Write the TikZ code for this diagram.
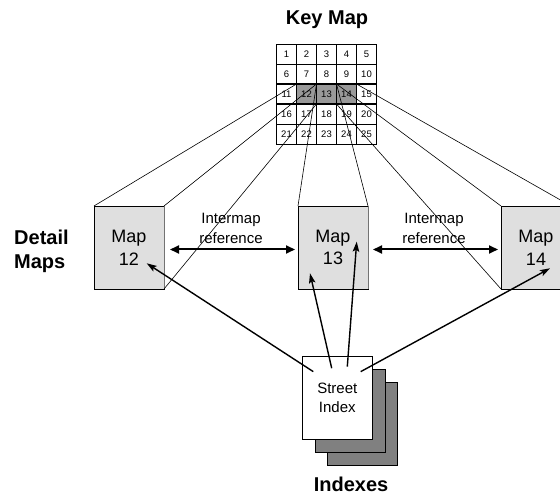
\documentclass[tikz,border=0pt]{standalone}
\usepackage{fontspec}
\setmainfont{Liberation Sans}
\usetikzlibrary{arrows.meta,calc}
\definecolor{keyshade}{rgb}{0.6,0.6,0.6}
\definecolor{boxfill}{rgb}{0.875,0.875,0.875}
\definecolor{pagefill}{rgb}{0.5,0.5,0.5}
\begin{document}
\begin{tikzpicture}[x=1pt,y=-1pt,
  cellbox/.style={draw,line width=0.8pt,minimum size=20pt,inner sep=0pt,outer sep=0pt,font=\fontsize{9.5}{11}\selectfont},
  mapbox/.style={draw,line width=0.8pt,fill=boxfill,minimum width=70pt,minimum height=83pt,inner sep=0pt,outer sep=0pt,align=center,font=\fontsize{18}{22.7}\selectfont},
  pagebox/.style={draw,line width=0.8pt,minimum width=70pt,minimum height=83.5pt,inner sep=0pt,outer sep=0pt,align=center,font=\fontsize{15}{19.3}\selectfont},
  boldlabel/.style={font=\fontsize{20}{24}\selectfont\bfseries,inner sep=0pt},
  reflabel/.style={align=center,inner sep=0pt,font=\fontsize{15}{20}\selectfont},
  frustum/.style={line width=0.6pt},
  dblarrow/.style={line width=2pt,{Triangle[length=9pt,width=8pt]}-{Triangle[length=9pt,width=8pt]}},
  idxarrow/.style={line width=1.4pt,-{Stealth[length=10pt,width=6.5pt,inset=2pt]}}
]
\useasboundingbox (0,0) rectangle (560,494);

% title
\node[boldlabel] (keytitle) at (327,20) {Key Map};

% key map grid
\fill[keyshade] (296.5,84) rectangle (356.5,104);
\foreach \r in {0,...,4}{
  \foreach \c in {0,...,4}{
    \pgfmathtruncatemacro{\n}{5*\r+\c+1}
    \node[cellbox] (c\n) at (286.5+20*\c,54+20*\r) {\n};
  }
}
\draw[line width=1.6pt] (c11.north west) -- (c15.north east);
\draw[line width=1.6pt] (c11.south west) -- (c15.south east);

% detail maps
\node[mapbox] (m12) at (129,247.5) {Map\\12};
\node[mapbox] (m13) at (333,247.5) {Map\\13};
\node[mapbox] (m14) at (536,247.5) {Map\\14};
\foreach \m in {m12,m13,m14}{
  \draw[line width=1.4pt,black!55] ([xshift=0.6pt]\m.north east) -- ([xshift=0.6pt]\m.south east);
}

% frustum lines
\draw[frustum] (c12.north west) -- (m12.north west);
\draw[frustum] (c12.north east) -- (m12.north east);
\draw[frustum] (c12.south east) -- (m12.south east);
\draw[frustum] (c13.north west) -- (m13.north west);
\draw[frustum] (c13.north east) -- (m13.north east);
\draw[frustum] (c14.north west) -- (m14.north west);
\draw[frustum] (c14.north east) -- (m14.north east);
\draw[frustum] (c14.south west) -- (m14.south west);

\node[boldlabel,anchor=west,align=left] (detail) at (14,251) {Detail\\Maps};

% intermap references
\node[reflabel] (ref1) at (231,228) {Intermap\\reference};
\node[reflabel] (ref2) at (434,228) {Intermap\\reference};
\draw[dblarrow] ([xshift=6pt,yshift=-2pt]m12.east) -- ([xshift=-3pt,yshift=-2pt]m13.west);
\draw[dblarrow] ([xshift=5pt,yshift=-2pt]m13.east) -- ([xshift=-3pt,yshift=-2pt]m14.west);

% indexes
\node[pagebox,fill=pagefill] (p3) at (362.5,423.7) {};
\node[pagebox,fill=pagefill] (p2) at (350,411) {};
\node[pagebox,fill=white] (p1) at (337.3,397.7) {Street\\Index};
\node[boldlabel] (indexes) at (351,484) {Indexes};

\coordinate (s1) at ($(p1.north west)+(11,15.7)$);
\coordinate (s2) at ($(p1.north west)+(29.4,12.3)$);
\coordinate (s3) at ($(p1.north west)+(45,10.7)$);
\coordinate (s4) at ($(p1.north west)+(58.4,15.7)$);
\coordinate (t12) at ($(m12.north west)+(52.7,57.3)$);
\coordinate (t13a) at ($(m13.north west)+(12,67.3)$);
\coordinate (t13b) at ($(m13.north west)+(58.7,35.7)$);
\coordinate (t14) at ($(m14.north west)+(49,62.3)$);
\draw[idxarrow] (s1) -- (t12);
\draw[idxarrow] (s2) -- (t13a);
\draw[idxarrow] (s3) -- (t13b);
\draw[idxarrow] (s4) -- (t14);
\end{tikzpicture}
\end{document}
